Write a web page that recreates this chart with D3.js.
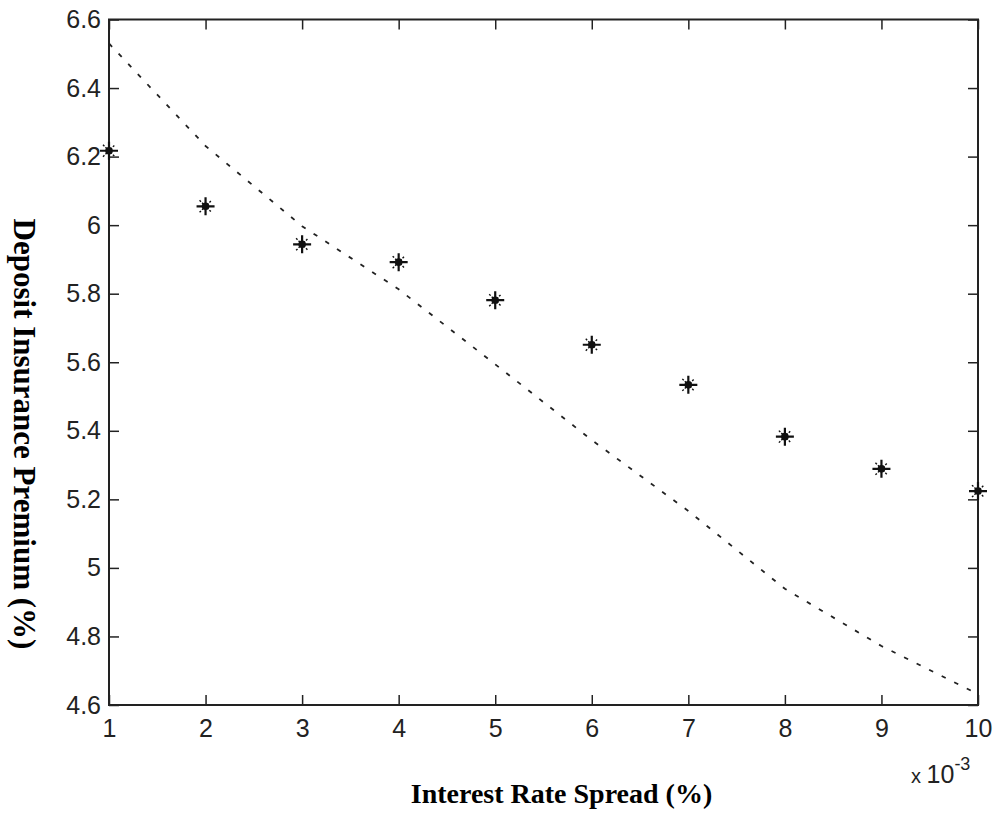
<!DOCTYPE html>
<html><head><meta charset="utf-8">
<script src="https://cdn.jsdelivr.net/npm/d3@7"></script>
<style>body{margin:0;background:#fff}</style>
</head><body>
<script>
const xValues = [1,2,3,4,5,6,7,8,9,10];
const starValues = [6.217,6.055,5.944,5.892,5.781,5.651,5.534,5.383,5.289,5.224];
const dashValues = [6.530,6.231,5.997,5.813,5.594,5.373,5.166,4.939,4.772,4.632];
const xTicks = [1,2,3,4,5,6,7,8,9,10];
const yTicks = [4.6,4.8,5,5.2,5.4,5.6,5.8,6,6.2,6.4,6.6];
const xTitle = "Interest Rate Spread (%)";
const yTitle = "Deposit Insurance Premium (%)";

const W=994,H=815;
const L=109,R=978,T=19.5,B=705;
const svg=d3.select("body").append("svg").attr("width",W).attr("height",H);
const x=d3.scaleLinear().domain([1,10]).range([L,R]);
const y=d3.scaleLinear().domain([4.6,6.6]).range([B,T]);
const font="Liberation Sans, Arial, Helvetica, sans-serif";

function style(g){
  g.select(".domain").remove();
  g.selectAll(".tick line").attr("stroke","#222").attr("stroke-width",1.5);
  g.selectAll("text").attr("font-family",font).attr("font-size",25).attr("fill","#222");
}
svg.append("g").attr("transform",`translate(0,${B})`)
  .call(d3.axisBottom(x).tickValues(xTicks).tickFormat(d3.format("d")).tickSizeInner(-10).tickSizeOuter(0).tickPadding(14))
  .call(style);
svg.append("g").attr("transform",`translate(0,${T})`)
  .call(d3.axisTop(x).tickValues(xTicks).tickFormat("").tickSizeInner(-10).tickSizeOuter(0))
  .call(style);
svg.append("g").attr("transform",`translate(${L},0)`)
  .call(d3.axisLeft(y).tickValues(yTicks).tickFormat(d=>d3.format("~g")(d)).tickSizeInner(-10).tickSizeOuter(0).tickPadding(8))
  .call(style);
svg.append("g").attr("transform",`translate(${R},0)`)
  .call(d3.axisRight(y).tickValues(yTicks).tickFormat("").tickSizeInner(-10).tickSizeOuter(0))
  .call(style);

svg.append("rect").attr("x",L).attr("y",T).attr("width",R-L).attr("height",B-T)
  .attr("fill","none").attr("stroke","#222").attr("stroke-width",2);

const pts=xValues.map((v,i)=>({x:v,s:starValues[i],d:dashValues[i]}));
svg.append("path").datum(pts)
  .attr("d",d3.line().x(d=>x(d.x)).y(d=>y(d.d)))
  .attr("fill","none").attr("stroke","#222").attr("stroke-width",1.8)
  .attr("stroke-dasharray","4.5,9.5");

const star=svg.append("g").selectAll("g").data(pts).join("g")
  .attr("transform",d=>`translate(${x(d.x)},${y(d.s)})`);
star.append("path").attr("d","M-9,0H9M0,-9V9").attr("stroke","#111").attr("stroke-width",2.2);
star.append("path").attr("d","M-6,-6L6,6M-6,6L6,-6").attr("stroke","#111").attr("stroke-width",1.4).attr("stroke-dasharray","2,1.5");
star.append("circle").attr("r",3.8).attr("fill","#111");

const ex=svg.append("text").attr("x",911).attr("y",783).attr("font-family",font).attr("font-size",25).attr("fill","#222");
ex.append("tspan").attr("font-size",20).text("x ");
ex.append("tspan").text("10");
ex.append("tspan").attr("font-size",18).attr("dy",-13).text("-3");

svg.append("text").attr("x",(L+R)/2+18).attr("y",803).attr("text-anchor","middle")
  .attr("font-family","Liberation Serif, Times New Roman, serif").attr("font-weight","bold").attr("font-size",28)
  .attr("fill","#000").text(xTitle);
svg.append("text").attr("transform",`translate(14,434) rotate(90)`).attr("text-anchor","middle")
  .attr("font-family","Liberation Serif, Times New Roman, serif").attr("font-weight","bold").attr("font-size",31)
  .attr("fill","#000").text(yTitle);
</script>
</body></html>
